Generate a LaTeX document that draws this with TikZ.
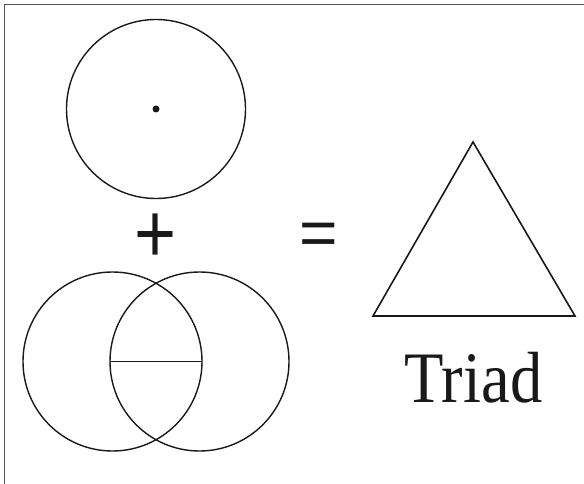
\documentclass[tikz,border=0pt]{standalone}
\usepackage{fontspec}
\setmainfont{Liberation Serif}
\newfontfamily\signfont{Liberation Sans}
\usetikzlibrary{positioning}
\definecolor{ink}{RGB}{25,25,25}
\definecolor{rim}{RGB}{85,85,85}

\begin{document}
\begin{tikzpicture}[x=1pt,y=-1pt,
    ring/.style={circle,draw=ink,line width=1.4pt,minimum size=179pt,inner sep=0pt,outer sep=0pt},
    sign/.style={font=\signfont\fontsize{72}{72}\selectfont,text=ink,inner sep=0pt},
    stroke/.style={draw=ink,line width=1.6pt}
  ]
    \useasboundingbox (0,0) rectangle (584,484);
    \draw[rim,line width=1.6pt] (4.5,484) -- (4.5,4.5) -- (584,4.5);

    \node[ring] (sun) at (156,109) {};
    \node[circle,fill=ink,minimum size=7pt,inner sep=0pt] (dot) at (sun.center) {};

    \node[sign,yscale=1.17] (plus) at (156,238.3) {+};

    \node[ring] (left) at (112.5,361.5) {};
    \node[ring] (right) at (199.5,361.5) {};
    \draw[stroke,line width=1.4pt] (right.west) -- (left.east);

    \node[sign,font=\signfont\fontsize{66}{66}\selectfont] (equals) at (318.8,239.2) {=};

    \coordinate (apex) at (473,142);
    \coordinate (base1) at (373,316);
    \coordinate (base2) at (575,316);
    \draw[stroke] (apex) -- (base2) -- (base1) -- cycle;

    \node[font=\fontsize{72.5}{72.5}\selectfont,text=ink,anchor=base,xscale=0.89,inner sep=0pt]
      (triad) at (473.5,402) {Triad};
  \end{tikzpicture}
\end{document}
